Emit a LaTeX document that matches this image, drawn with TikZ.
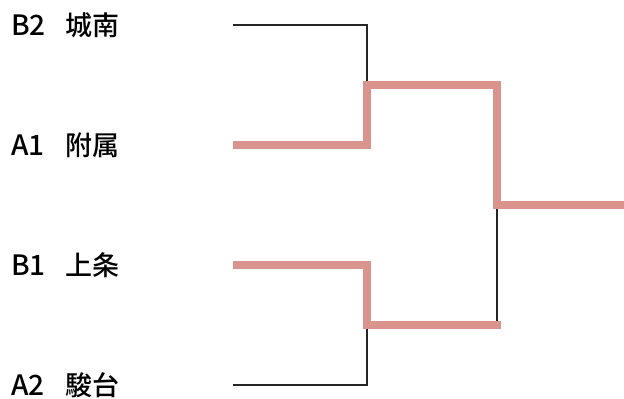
\documentclass[tikz,border=0pt]{standalone}
\usepackage{fontspec}
\setmainfont{Liberation Sans}
\newfontfamily\cjk{Noto Sans CJK JP Medium}
\usetikzlibrary{calc}
\definecolor{winpink}{HTML}{D9948E}

\begin{document}
\begin{tikzpicture}[x=1pt,y=-1pt,
  seed/.style={anchor=west,inner sep=0pt,font=\fontsize{28}{28}\selectfont\cjk},
  team/.style={anchor=west,inner sep=0pt,font=\fontsize{27}{27}\selectfont\cjk},
  lose/.style={line width=1.4pt,black!85},
  win/.style={line width=8pt,winpink,miter limit=10}]
\useasboundingbox (0,0) rectangle (624,399);
% entries: y / seed / school / name
\foreach \y/\s/\n/\id in {25/B2/城南/b2,145/A1/附属/a1,265/B1/上条/b1,385/A2/駿台/a2}{
  \node[seed] (s\id) at (11,\y) {\s};
  \node[team] (\id) at (65,\y) {\n};
  \coordinate (\id-e) at (233,\y);
}
\coordinate (m1) at (367,85);
\coordinate (m2) at (367,325);
\coordinate (fin) at (497,205);
\coordinate (win) at (624,205);
% losing lines
\draw[lose] (b2-e) -| (m1);
\draw[lose] (a2-e) -| (m2);
\draw[lose] (fin) -- (fin |- m2);
% winning lines
\draw[win] (a1-e) -| (m1) -| (fin) -- (win);
\draw[win] (b1-e) -| (m2) -- ($(fin |- m2)+(4,0)$);
\end{tikzpicture}
\end{document}
